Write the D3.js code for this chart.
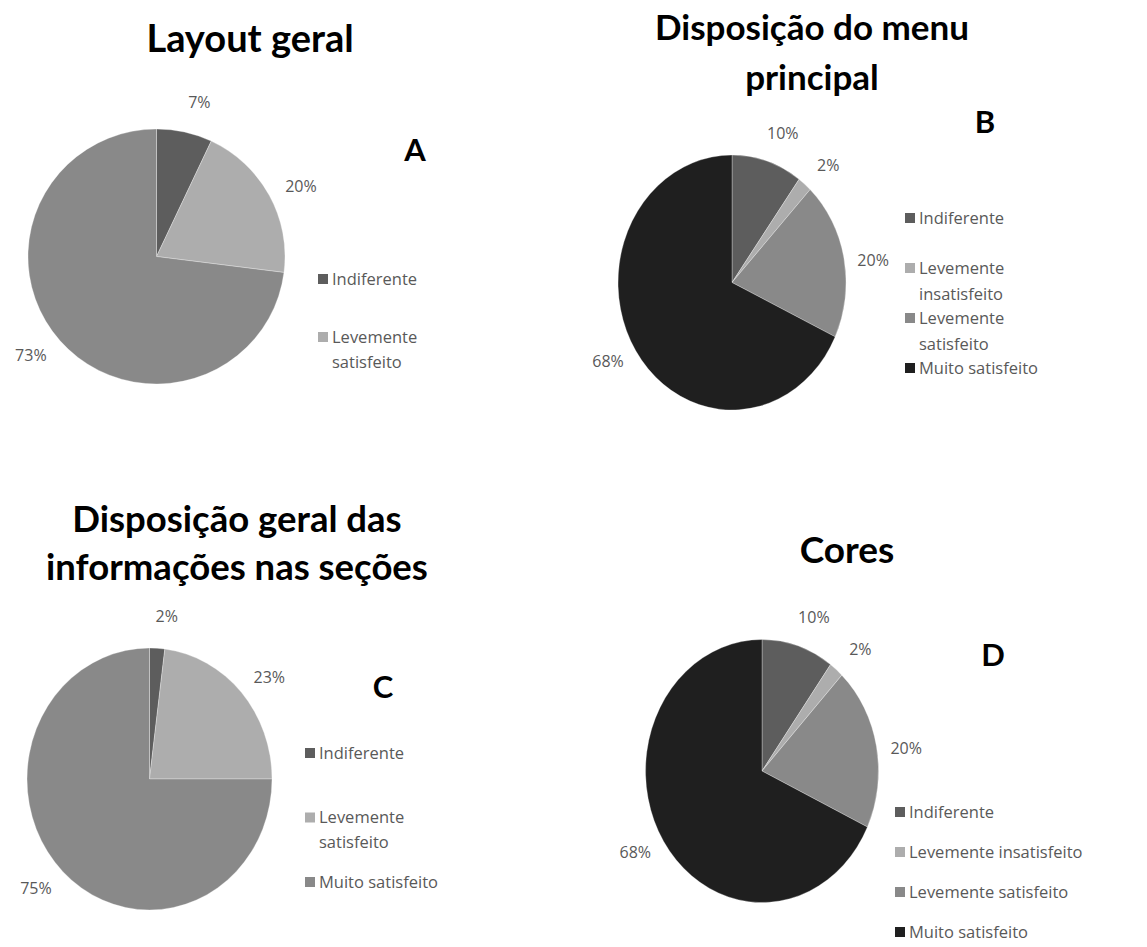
<!DOCTYPE html>
<html>
<head>
<meta charset="utf-8">
<script src="https://cdn.jsdelivr.net/npm/d3@7"></script>
<style>
  html, body { margin: 0; padding: 0; background: #ffffff; }
  svg { display: block; }
</style>
</head>
<body>
<svg id="chart" width="1147" height="947"></svg>
<script>
// ---------- DATA ----------
const palette = ["#5d5d5d", "#adadad", "#898989", "#1f1f1f"];

const titleA = ["Layout geral"];
const categoriesA = ["Indiferente", "Levemente satisfeito", "Muito satisfeito"];
const valuesA = [7, 20, 73];
const legendA = [["Indiferente"], ["Levemente", "satisfeito"]];

const titleB = ["Disposição do menu", "principal"];
const categoriesB = ["Indiferente", "Levemente insatisfeito", "Levemente satisfeito", "Muito satisfeito"];
const valuesB = [10, 2, 20, 68];
const legendB = [["Indiferente"], ["Levemente", "insatisfeito"], ["Levemente", "satisfeito"], ["Muito satisfeito"]];

const titleC = ["Disposição geral das", "informações nas seções"];
const categoriesC = ["Indiferente", "Levemente satisfeito", "Muito satisfeito"];
const valuesC = [2, 23, 75];
const legendC = [["Indiferente"], ["Levemente", "satisfeito"], ["Muito satisfeito"]];

const titleD = ["Cores"];
const categoriesD = ["Indiferente", "Levemente insatisfeito", "Levemente satisfeito", "Muito satisfeito"];
const valuesD = [10, 2, 20, 68];
const legendD = [["Indiferente"], ["Levemente insatisfeito"], ["Levemente satisfeito"], ["Muito satisfeito"]];

const panelLetters = ["A", "B", "C", "D"];

// ---------- LAYOUT ----------
const layouts = [
  { title: titleA, cats: categoriesA, vals: valuesA, legend: legendA, letter: panelLetters[0],
    cx: 156.5, cy: 256.5, rx: 128.5, ry: 127.5,
    titleX: 250, titleY: 52, titleGap: 50, titleSize: 38,
    letterX: 415, letterY: 161,
    legX: 318, legY: 279, legStep: 58, legLine: 25 },
  { title: titleB, cats: categoriesB, vals: valuesB, legend: legendB, letter: panelLetters[1],
    cx: 732, cy: 282.5, rx: 114, ry: 127.5,
    titleX: 812, titleY: 40, titleGap: 50, titleSize: 35,
    letterX: 985, letterY: 133,
    legX: 905, legY: 218, legStep: 50, legLine: 26 },
  { title: titleC, cats: categoriesC, vals: valuesC, legend: legendC, letter: panelLetters[2],
    cx: 149.5, cy: 779, rx: 122.5, ry: 131,
    titleX: 237, titleY: 532, titleGap: 48, titleSize: 36.5,
    letterX: 383, letterY: 698,
    legX: 305, legY: 753, legStep: 64.5, legLine: 25 },
  { title: titleD, cats: categoriesD, vals: valuesD, legend: legendD, letter: panelLetters[3],
    cx: 762, cy: 771, rx: 116.5, ry: 131.5,
    titleX: 847, titleY: 563, titleGap: 48, titleSize: 37,
    letterX: 993, letterY: 666,
    legX: 895, legY: 812, legStep: 40, legLine: 25 }
];

const svg = d3.select("#chart");
svg.append("rect").attr("width", 1147).attr("height", 947).attr("fill", "#ffffff");

const textFont = "'Open Sans', 'DejaVu Sans', sans-serif";
const titleFont = "Lato, 'Open Sans', sans-serif";

const pie = d3.pie().sort(null).value(d => d.v);
const arc = d3.arc().innerRadius(0).outerRadius(1);

layouts.forEach(L => {
  const data = L.cats.map((c, i) => ({ c, v: L.vals[i], i }));
  const color = d3.scaleOrdinal().domain(L.cats).range(palette);
  const total = d3.sum(L.vals);

  // title
  const t = svg.append("text")
    .attr("x", L.titleX).attr("y", L.titleY)
    .attr("text-anchor", "middle")
    .style("font-family", titleFont).style("font-weight", 700)
    .style("font-size", L.titleSize + "px").attr("fill", "#000");
  L.title.forEach((line, k) => {
    t.append("tspan").attr("x", L.titleX).attr("y", L.titleY + k * L.titleGap).text(line);
  });

  // panel letter
  svg.append("text")
    .attr("x", L.letterX).attr("y", L.letterY)
    .attr("text-anchor", "middle")
    .style("font-family", titleFont).style("font-weight", 700)
    .style("font-size", "31px").attr("fill", "#000")
    .text(L.letter);

  // pie (ellipse via scale)
  const arcs = pie(data);
  const g = svg.append("g").attr("transform", `translate(${L.cx},${L.cy}) scale(${L.rx},${L.ry})`);
  g.selectAll("path").data(arcs).join("path")
    .attr("d", arc)
    .attr("fill", d => color(d.data.c))
    .attr("stroke", "#ffffff").attr("stroke-width", 0.6)
    .attr("stroke-opacity", 0.5)
    .attr("vector-effect", "non-scaling-stroke");

  // data labels
  const lf = 1.25;
  svg.selectAll(null).data(arcs).join("text")
    .attr("x", d => { const a = (d.startAngle + d.endAngle) / 2 + 0.05; return L.cx + Math.sin(a) * L.rx * lf; })
    .attr("y", d => { const a = (d.startAngle + d.endAngle) / 2 + 0.05; return L.cy - Math.cos(a) * L.ry * lf; })
    .attr("dy", "0.35em")
    .attr("text-anchor", "middle")
    .style("font-family", textFont).style("font-size", "16px")
    .attr("fill", "#595959")
    .text(d => Math.round(d.data.v / total * 100) + "%");

  // legend
  L.legend.forEach((lines, i) => {
    const y0 = L.legY + i * L.legStep;
    svg.append("rect")
      .attr("x", L.legX).attr("y", y0 - 5)
      .attr("width", 10).attr("height", 10)
      .attr("fill", color(L.cats[i]));
    const tx = svg.append("text")
      .style("font-family", textFont).style("font-size", "16.5px")
      .attr("fill", "#595959");
    lines.forEach((ln, k) => {
      tx.append("tspan").attr("x", L.legX + 14).attr("y", y0 + k * L.legLine).attr("dy", "0.35em").text(ln);
    });
  });
});
</script>
</body>
</html>
